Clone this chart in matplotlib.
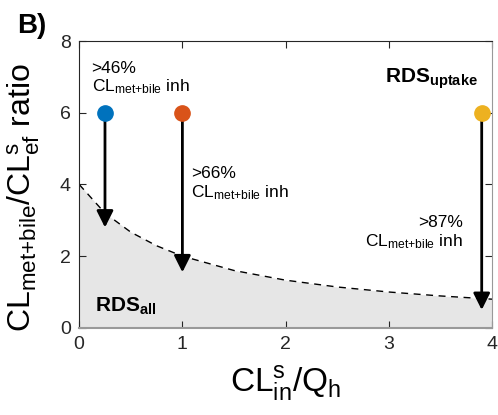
import matplotlib
matplotlib.use('Agg')
import matplotlib.pyplot as plt

plt.rcParams['font.family'] = ['Liberation Sans', 'DejaVu Sans']
plt.rcParams['mathtext.fontset'] = 'custom'
plt.rcParams['mathtext.rm'] = 'Liberation Sans'
plt.rcParams['mathtext.it'] = 'Liberation Sans'
plt.rcParams['mathtext.bf'] = 'Liberation Sans:bold'

# dashed boundary curve
curve_x = [0, 0.25, 0.5, 0.75, 1, 1.5, 2, 2.5, 3, 3.5, 4]
curve_y = [4, 3.2, 2.67, 2.29, 2.0, 1.6, 1.33, 1.14, 1.0, 0.89, 0.8]

# drugs: start point and arrow tip
pt_x = [0.25, 1.0, 3.9]
pt_y = [6, 6, 6]
tip_y = [2.8, 1.55, 0.5]
pt_colors = ['#0072BD', '#D95319', '#EDB120']
pct_labels = ['>46%', '>66%', '>87%']

fig = plt.figure(figsize=(4.98, 4.15), dpi=100)
ax = fig.add_axes([0.159, 0.21, 0.829, 0.691])

ax.fill_between(curve_x, 0, curve_y, color='#E6E6E6', lw=0, zorder=1)
ax.plot(curve_x, curve_y, '--', color='black', lw=1.0, dashes=(5, 4), zorder=2)

for x, y0, y1, c in zip(pt_x, pt_y, tip_y, pt_colors):
    ax.annotate('', xy=(x, y1), xytext=(x, y0),
                arrowprops=dict(arrowstyle='-|>,head_width=0.5,head_length=1.0',
                                color='black', lw=2, shrinkA=0, shrinkB=0), zorder=3)
    ax.plot(x, y0, 'o', color=c, ms=11, zorder=4)

sub = r'CL$_{\mathregular{met{+}bile}}$ inh'
fs = 12.5
ax.text(0.12, 7.1, pct_labels[0], fontsize=fs)
ax.text(0.12, 6.6, sub, fontsize=fs)
ax.text(1.08, 4.18, pct_labels[1], fontsize=fs)
ax.text(1.08, 3.65, sub, fontsize=fs)
ax.text(3.72, 2.8, pct_labels[2], fontsize=fs, ha='right')
ax.text(3.72, 2.27, sub, fontsize=fs, ha='right')

ax.text(3.86, 6.85, r'RDS$_{\mathbf{uptake}}$', fontsize=15, fontweight='bold', ha='right')
ax.text(0.15, 0.45, r'RDS$_{\mathbf{all}}$', fontsize=15, fontweight='bold')

ax.set_xlim(0, 4)
ax.set_ylim(0, 8)
ax.set_xticks([0, 1, 2, 3, 4])
ax.set_yticks([0, 2, 4, 6, 8])
ax.tick_params(direction='in', top=True, right=True, labelsize=14, length=5,
               colors='#262626', pad=6)
for s in ['left', 'top']:
    ax.spines[s].set_color('#262626')
for s in ['right', 'bottom']:
    ax.spines[s].set_color('#999999')
ax.spines['bottom'].set_linewidth(1.5)

ax.set_xlabel(r'CL$^{\mathregular{s}}_{\mathregular{in}}$/Q$_{\mathregular{h}}$', fontsize=24, labelpad=8)
ax.set_ylabel(r'CL$_{\mathregular{met{+}bile}}$/CL$^{\mathregular{s}}_{\mathregular{ef}}$ ratio', fontsize=23)
ax.yaxis.set_label_coords(-0.09, 0.455)

fig.text(0.034, 0.92, 'B)', fontsize=20, fontweight='bold')

fig.savefig('out.png', dpi=100)
